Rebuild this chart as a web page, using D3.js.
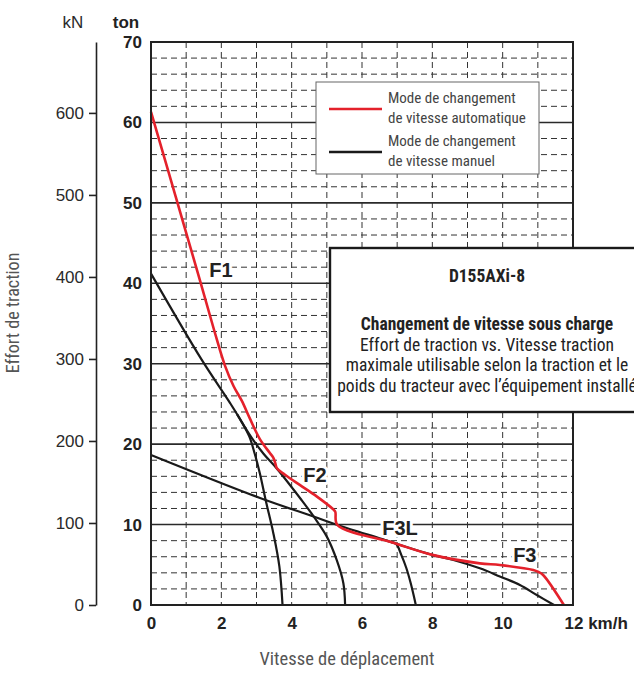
<!DOCTYPE html>
<html><head><meta charset="utf-8">
<script src="https://cdn.jsdelivr.net/npm/d3@7"></script>
<style>
html,body{margin:0;padding:0;background:#fff;}
svg{display:block;}
</style></head><body>
<svg id="chart" width="634" height="673"></svg>
<script>
// ---- data ----
const speedTicks = [0, 2, 4, 6, 8, 10, 12];
const tonTicks = [0, 10, 20, 30, 40, 50, 60, 70];
const kNTicks = [0, 100, 200, 300, 400, 500, 600];
const speedGrid = [1,2,3,4,5,6,7,8,9,10,11];
const tonMinorGrid = d3.range(2, 70, 2).filter(d => d % 10 !== 0);
const tonMajorGrid = [10, 20, 30, 40, 50, 60];

// automatic shift mode (speed km/h, ton)
const autoShift = [[0,61.3],[0.7,50.8],[1.39,40.4],[1.8,34.1],[2.1,29.8],[2.35,27.2],[2.58,25.4],[2.81,23.2],[3.10,20.6],[3.38,18.9],[3.48,18.3],[3.53,17.7],[3.58,17.0],[3.81,16.2],[4.24,14.9],[4.71,13.5],[5.18,11.9],[5.24,11.6],[5.30,9.95],[6.80,7.87],[7.08,7.46],[8.03,6.2],[9.35,5.18],[9.92,4.97],[10.87,4.35],[11.02,4.1],[11.15,3.73],[11.74,0]];
// manual shift mode gears
const manualF1 = [[0,41.2],[1.44,30.5],[2.25,25.1],[2.6,22.6],[2.8,20.9],[2.95,18.8],[3.1,16.3],[3.26,13.05],[3.48,8.9],[3.65,4.8],[3.74,0]];
const manualF2 = [[2.45,23.7],[2.86,20.8],[3.2,18.8],[3.57,17.0],[4.28,13.05],[4.66,10.8],[5.0,8.5],[5.28,5.6],[5.47,2.7],[5.52,0]];
const manualF3L = [[0,18.65],[3.10,13.3],[4.62,11.0],[5.30,9.95],[6.80,7.87],[6.97,7.6],[7.12,6.2],[7.26,4.6],[7.38,2.8],[7.48,1.0],[7.53,0]];
const manualF3 = [[6.80,7.87],[8.03,6.2],[8.6,5.6],[9.35,4.56],[9.92,3.55],[10.49,2.49],[10.97,1.24],[11.46,0]];
const gearLabels = [["F1",1.99,41.65],["F2",4.66,16.16],["F3L",7.08,9.57],["F3",10.63,6.2]];
const legendItems = [["Mode de changement","de vitesse automatique","#e4212b"],["Mode de changement","de vitesse manuel","#1a1a1a"]];
const infoTitle = "D155AXi-8";
const infoLines = ["Changement de vitesse sous charge","Effort de traction vs. Vitesse traction","maximale utilisable selon la traction et le","poids du tracteur avec l\u2019\u00e9quipement install\u00e9"];

// ---- layout ----
const svg = d3.select("#chart");
const X0 = 151, X1 = 573, Y0 = 605, Y1 = 42;
const x = d3.scaleLinear().domain([0, 12]).range([X0, X1]);
const yTon = d3.scaleLinear().domain([0, 70]).range([Y0, Y1]);
const yKN = d3.scaleLinear().domain([0, 70 * 9.80665]).range([Y0, Y1]);
const sans = '"Liberation Sans", Arial, Helvetica, sans-serif';
const cond = '"Roboto Condensed","Liberation Sans Narrow","DejaVu Sans Condensed","Roboto",sans-serif';

// grid
const grid = svg.append("g");
grid.selectAll("line.v").data(speedGrid).join("line")
  .attr("x1", d => x(d)).attr("x2", d => x(d)).attr("y1", Y1).attr("y2", Y0)
  .attr("stroke", "#333").attr("stroke-width", 1).attr("stroke-dasharray", "6,4");
grid.selectAll("line.h").data(tonMinorGrid).join("line")
  .attr("x1", X0).attr("x2", X1).attr("y1", d => yTon(d)).attr("y2", d => yTon(d))
  .attr("stroke", "#333").attr("stroke-width", 1).attr("stroke-dasharray", "6,4");
grid.selectAll("line.m").data(tonMajorGrid).join("line")
  .attr("x1", X0).attr("x2", X1).attr("y1", d => yTon(d)).attr("y2", d => yTon(d))
  .attr("stroke", "#2a2a2a").attr("stroke-width", 1.6);

// curves
const smooth = d3.line().x(d => x(d[0])).y(d => yTon(d[1])).curve(d3.curveCatmullRom.alpha(0.5));
[manualF1, manualF2, manualF3L, manualF3].forEach(c => {
  svg.append("path").datum(c).attr("d", smooth).attr("fill", "none")
    .attr("stroke", "#1a1a1a").attr("stroke-width", 2.2).attr("stroke-linejoin", "round");
});

// gear labels (knock-out)
svg.append("g").selectAll("text").data(gearLabels).join("text")
  .attr("x", d => x(d[1])).attr("y", d => yTon(d[2])).attr("dy", "0.36em")
  .attr("text-anchor", "middle").attr("font-family", sans).attr("font-weight", "bold")
  .attr("font-size", 20).attr("fill", "#222")
  .attr("stroke", "#fff").attr("stroke-width", 6).attr("stroke-linejoin", "round")
  .attr("paint-order", "stroke").text(d => d[0]);

svg.append("path").datum(autoShift).attr("d", smooth).attr("fill", "none")
  .attr("stroke", "#e4212b").attr("stroke-width", 2.6).attr("stroke-linejoin", "round");

// frame
svg.append("rect").attr("x", X0).attr("y", Y1).attr("width", X1 - X0).attr("height", Y0 - Y1)
  .attr("fill", "none").attr("stroke", "#222").attr("stroke-width", 2);

// kN axis
const gK = svg.append("g").attr("transform", "translate(96,0)")
  .call(d3.axisLeft(yKN).tickValues(kNTicks).tickSize(7).tickSizeOuter(0).tickPadding(5));
gK.select(".domain").attr("stroke", "#222").attr("stroke-width", 1.6);
gK.selectAll(".tick line").attr("stroke", "#222").attr("stroke-width", 1.6);
gK.selectAll("text").attr("font-family", sans).attr("font-size", 17).attr("fill", "#2a2a2a");

// ton axis
const gT = svg.append("g").attr("transform", `translate(${X0},0)`)
  .call(d3.axisLeft(yTon).tickValues(tonTicks).tickSize(0).tickPadding(9));
gT.select(".domain").remove();
gT.selectAll("text").attr("font-family", sans).attr("font-weight", "bold").attr("font-size", 17).attr("fill", "#222");

// x axis
const gX = svg.append("g").attr("transform", `translate(0,${Y0})`)
  .call(d3.axisBottom(x).tickValues(speedTicks).tickSize(0).tickPadding(12));
gX.select(".domain").remove();
gX.selectAll("text").attr("font-family", sans).attr("font-weight", "bold").attr("font-size", 17).attr("fill", "#222");
gX.selectAll(".tick").filter(d => d === 12).select("text")
  .attr("text-anchor", "start").attr("dx", -9).text("12 km/h");

// axis titles
svg.append("text").attr("x", 73).attr("y", 22).attr("dy", "0.35em").attr("text-anchor", "middle")
  .attr("font-family", sans).attr("font-size", 17).attr("fill", "#2a2a2a").text("kN");
svg.append("text").attr("x", 126).attr("y", 22).attr("dy", "0.35em").attr("text-anchor", "middle")
  .attr("font-family", sans).attr("font-weight", "bold").attr("font-size", 17).attr("fill", "#222").text("ton");
svg.append("text").attr("transform", "translate(13,313) rotate(-90)").attr("dy", "0.35em")
  .attr("text-anchor", "middle").attr("font-family", cond).attr("font-size", 18).attr("fill", "#555")
  .text("Effort de traction");
svg.append("text").attr("x", 347).attr("y", 659).attr("dy", "0.35em").attr("text-anchor", "middle")
  .attr("font-family", cond).attr("font-size", 18.5).attr("fill", "#555").text("Vitesse de d\u00e9placement");

// legend
const lg = svg.append("g");
lg.append("rect").attr("x", 316).attr("y", 82).attr("width", 223).attr("height", 92)
  .attr("fill", "#fff").attr("stroke", "#666").attr("stroke-width", 1);
legendItems.forEach((it, i) => {
  const yc = 109 + i * 43;
  lg.append("line").attr("x1", 329).attr("x2", 382).attr("y1", yc).attr("y2", yc)
    .attr("stroke", it[2]).attr("stroke-width", 2.6);
  [it[0], it[1]].forEach((t, j) => {
    lg.append("text").attr("x", 388).attr("y", yc - 11 + j * 20).attr("dy", "0.35em")
      .attr("font-family", cond).attr("font-size", 15).attr("fill", "#444").text(t);
  });
});

// info box
const ib = svg.append("g");
ib.append("rect").attr("x", 330).attr("y", 248).attr("width", 330).attr("height", 164)
  .attr("fill", "#fff").attr("stroke", "#1a1a1a").attr("stroke-width", 2.4);
const cx = 487;
ib.append("text").attr("x", cx).attr("y", 276).attr("dy", "0.35em").attr("text-anchor", "middle")
  .attr("font-family", cond).attr("font-weight", "bold").attr("font-size", 17.5).attr("fill", "#222").text(infoTitle);
infoLines.forEach((t, i) => {
  ib.append("text").attr("x", cx).attr("y", 324 + i * 20.5).attr("dy", "0.35em").attr("text-anchor", "middle")
    .attr("font-family", cond).attr("font-weight", i === 0 ? "bold" : "normal")
    .attr("font-size", i === 0 ? 17.5 : 17.5)
    .attr("fill", "#222").text(t);
});
</script>
</body></html>
